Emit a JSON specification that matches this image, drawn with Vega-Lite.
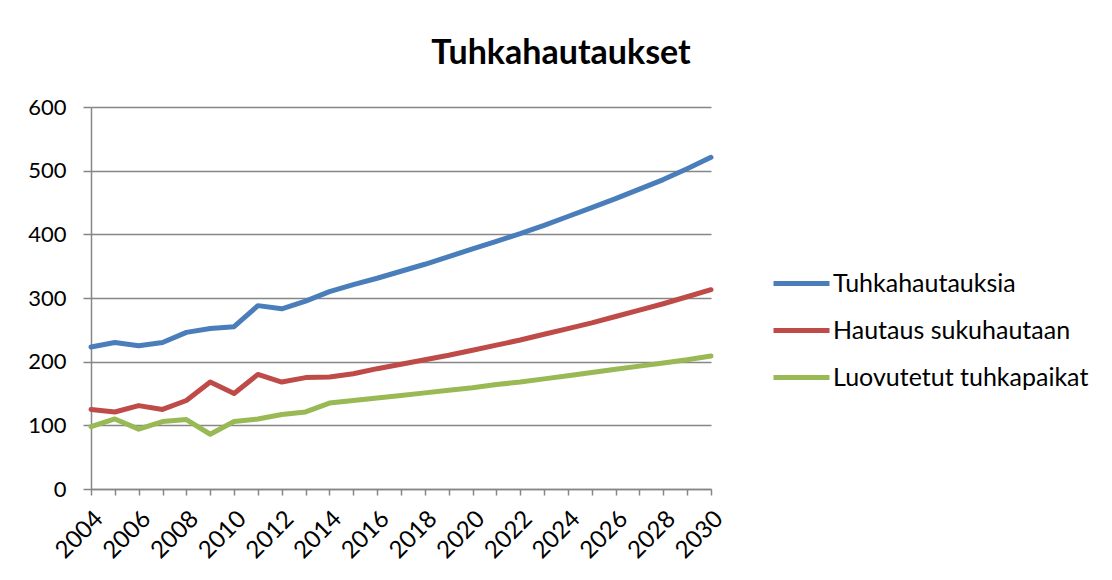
{
  "$schema": "https://vega.github.io/schema/vega-lite/v6.json",
  "autosize": "none",
  "width": 620,
  "height": 382,
  "padding": {"left": 91, "top": 107, "right": 401, "bottom": 91},
  "background": "white",
  "config": {
    "font": "Lato",
    "view": {"stroke": null}
  },
  "title": {
    "text": "Tuhkahautaukset",
    "font": "Lato",
    "fontSize": 34,
    "fontWeight": "bold",
    "color": "#000000",
    "anchor": "middle",
    "dx": 160,
    "offset": 25
  },
  "data": {
    "values": [
      {"year": 2004, "series": "Tuhkahautauksia", "value": 223},
      {"year": 2005, "series": "Tuhkahautauksia", "value": 230},
      {"year": 2006, "series": "Tuhkahautauksia", "value": 225},
      {"year": 2007, "series": "Tuhkahautauksia", "value": 230},
      {"year": 2008, "series": "Tuhkahautauksia", "value": 246},
      {"year": 2009, "series": "Tuhkahautauksia", "value": 252},
      {"year": 2010, "series": "Tuhkahautauksia", "value": 255},
      {"year": 2011, "series": "Tuhkahautauksia", "value": 288},
      {"year": 2012, "series": "Tuhkahautauksia", "value": 283},
      {"year": 2013, "series": "Tuhkahautauksia", "value": 295},
      {"year": 2014, "series": "Tuhkahautauksia", "value": 310},
      {"year": 2015, "series": "Tuhkahautauksia", "value": 321},
      {"year": 2016, "series": "Tuhkahautauksia", "value": 331},
      {"year": 2017, "series": "Tuhkahautauksia", "value": 342},
      {"year": 2018, "series": "Tuhkahautauksia", "value": 353},
      {"year": 2019, "series": "Tuhkahautauksia", "value": 365},
      {"year": 2020, "series": "Tuhkahautauksia", "value": 377},
      {"year": 2021, "series": "Tuhkahautauksia", "value": 389},
      {"year": 2022, "series": "Tuhkahautauksia", "value": 401},
      {"year": 2023, "series": "Tuhkahautauksia", "value": 414},
      {"year": 2024, "series": "Tuhkahautauksia", "value": 428},
      {"year": 2025, "series": "Tuhkahautauksia", "value": 442},
      {"year": 2026, "series": "Tuhkahautauksia", "value": 456},
      {"year": 2027, "series": "Tuhkahautauksia", "value": 471},
      {"year": 2028, "series": "Tuhkahautauksia", "value": 486},
      {"year": 2029, "series": "Tuhkahautauksia", "value": 503},
      {"year": 2030, "series": "Tuhkahautauksia", "value": 521},
      {"year": 2004, "series": "Hautaus sukuhautaan", "value": 125},
      {"year": 2005, "series": "Hautaus sukuhautaan", "value": 121},
      {"year": 2006, "series": "Hautaus sukuhautaan", "value": 131},
      {"year": 2007, "series": "Hautaus sukuhautaan", "value": 125},
      {"year": 2008, "series": "Hautaus sukuhautaan", "value": 139},
      {"year": 2009, "series": "Hautaus sukuhautaan", "value": 168},
      {"year": 2010, "series": "Hautaus sukuhautaan", "value": 150},
      {"year": 2011, "series": "Hautaus sukuhautaan", "value": 180},
      {"year": 2012, "series": "Hautaus sukuhautaan", "value": 168},
      {"year": 2013, "series": "Hautaus sukuhautaan", "value": 175},
      {"year": 2014, "series": "Hautaus sukuhautaan", "value": 176},
      {"year": 2015, "series": "Hautaus sukuhautaan", "value": 181},
      {"year": 2016, "series": "Hautaus sukuhautaan", "value": 189},
      {"year": 2017, "series": "Hautaus sukuhautaan", "value": 196},
      {"year": 2018, "series": "Hautaus sukuhautaan", "value": 203},
      {"year": 2019, "series": "Hautaus sukuhautaan", "value": 210},
      {"year": 2020, "series": "Hautaus sukuhautaan", "value": 218},
      {"year": 2021, "series": "Hautaus sukuhautaan", "value": 226},
      {"year": 2022, "series": "Hautaus sukuhautaan", "value": 234},
      {"year": 2023, "series": "Hautaus sukuhautaan", "value": 243},
      {"year": 2024, "series": "Hautaus sukuhautaan", "value": 252},
      {"year": 2025, "series": "Hautaus sukuhautaan", "value": 261},
      {"year": 2026, "series": "Hautaus sukuhautaan", "value": 271},
      {"year": 2027, "series": "Hautaus sukuhautaan", "value": 281},
      {"year": 2028, "series": "Hautaus sukuhautaan", "value": 291},
      {"year": 2029, "series": "Hautaus sukuhautaan", "value": 302},
      {"year": 2030, "series": "Hautaus sukuhautaan", "value": 313},
      {"year": 2004, "series": "Luovutetut tuhkapaikat", "value": 98},
      {"year": 2005, "series": "Luovutetut tuhkapaikat", "value": 110},
      {"year": 2006, "series": "Luovutetut tuhkapaikat", "value": 94},
      {"year": 2007, "series": "Luovutetut tuhkapaikat", "value": 106},
      {"year": 2008, "series": "Luovutetut tuhkapaikat", "value": 109},
      {"year": 2009, "series": "Luovutetut tuhkapaikat", "value": 86},
      {"year": 2010, "series": "Luovutetut tuhkapaikat", "value": 106},
      {"year": 2011, "series": "Luovutetut tuhkapaikat", "value": 110},
      {"year": 2012, "series": "Luovutetut tuhkapaikat", "value": 117},
      {"year": 2013, "series": "Luovutetut tuhkapaikat", "value": 121},
      {"year": 2014, "series": "Luovutetut tuhkapaikat", "value": 135},
      {"year": 2015, "series": "Luovutetut tuhkapaikat", "value": 139},
      {"year": 2016, "series": "Luovutetut tuhkapaikat", "value": 143},
      {"year": 2017, "series": "Luovutetut tuhkapaikat", "value": 147},
      {"year": 2018, "series": "Luovutetut tuhkapaikat", "value": 151},
      {"year": 2019, "series": "Luovutetut tuhkapaikat", "value": 155},
      {"year": 2020, "series": "Luovutetut tuhkapaikat", "value": 159},
      {"year": 2021, "series": "Luovutetut tuhkapaikat", "value": 164},
      {"year": 2022, "series": "Luovutetut tuhkapaikat", "value": 168},
      {"year": 2023, "series": "Luovutetut tuhkapaikat", "value": 173},
      {"year": 2024, "series": "Luovutetut tuhkapaikat", "value": 178},
      {"year": 2025, "series": "Luovutetut tuhkapaikat", "value": 183},
      {"year": 2026, "series": "Luovutetut tuhkapaikat", "value": 188},
      {"year": 2027, "series": "Luovutetut tuhkapaikat", "value": 193},
      {"year": 2028, "series": "Luovutetut tuhkapaikat", "value": 198},
      {"year": 2029, "series": "Luovutetut tuhkapaikat", "value": 203},
      {"year": 2030, "series": "Luovutetut tuhkapaikat", "value": 209}
    ]
  },
  "mark": {"type": "line", "strokeWidth": 5, "strokeCap": "round", "strokeJoin": "round"},
  "encoding": {
    "x": {
      "field": "year",
      "type": "quantitative",
      "scale": {"domain": [2004, 2030], "nice": false, "zero": false},
      "axis": {
        "title": null,
        "values": [2004,2005,2006,2007,2008,2009,2010,2011,2012,2013,2014,2015,2016,2017,2018,2019,2020,2021,2022,2023,2024,2025,2026,2027,2028,2029,2030],
        "labelExpr": "datum.value % 2 == 0 ? datum.value : ''",
        "format": "d",
        "grid": false,
        "domainColor": "#868686",
        "domainWidth": 1.5,
        "tickColor": "#868686",
        "tickWidth": 1.5,
        "tickSize": 6,
        "labelAngle": -45,
        "labelAlign": "right",
        "labelBaseline": "middle",
        "labelPadding": 20,
        "labelOffset": 8,
        "labelFont": "Lato",
        "labelFontSize": 24,
        "labelColor": "#000000",
        "labelFlush": false,
        "labelOverlap": false
      }
    },
    "y": {
      "field": "value",
      "type": "quantitative",
      "scale": {"domain": [0, 600], "nice": false},
      "axis": {
        "title": null,
        "values": [0, 100, 200, 300, 400, 500, 600],
        "grid": true,
        "gridColor": "#868686",
        "gridWidth": 1.5,
        "domainColor": "#868686",
        "domainWidth": 1.5,
        "tickColor": "#868686",
        "tickWidth": 1.5,
        "tickSize": 8,
        "labelPadding": 17,
        "labelFont": "Lato",
        "labelFontSize": 22,
        "labelColor": "#000000"
      }
    },
    "color": {
      "field": "series",
      "type": "nominal",
      "scale": {
        "domain": ["Tuhkahautauksia", "Hautaus sukuhautaan", "Luovutetut tuhkapaikat"],
        "range": ["#4A7EBB", "#BE4B48", "#98B954"]
      },
      "legend": {
        "title": null,
        "orient": "none",
        "legendX": 680,
        "legendY": 146,
        "padding": 0,
        "symbolType": "stroke",
        "symbolSize": 3136,
        "symbolStrokeWidth": 5,
        "labelFont": "Lato",
        "labelFontSize": 25,
        "labelColor": "#000000",
        "labelOffset": 1,
        "rowPadding": 3,
        "labelLimit": 400
      }
    }
  }
}
